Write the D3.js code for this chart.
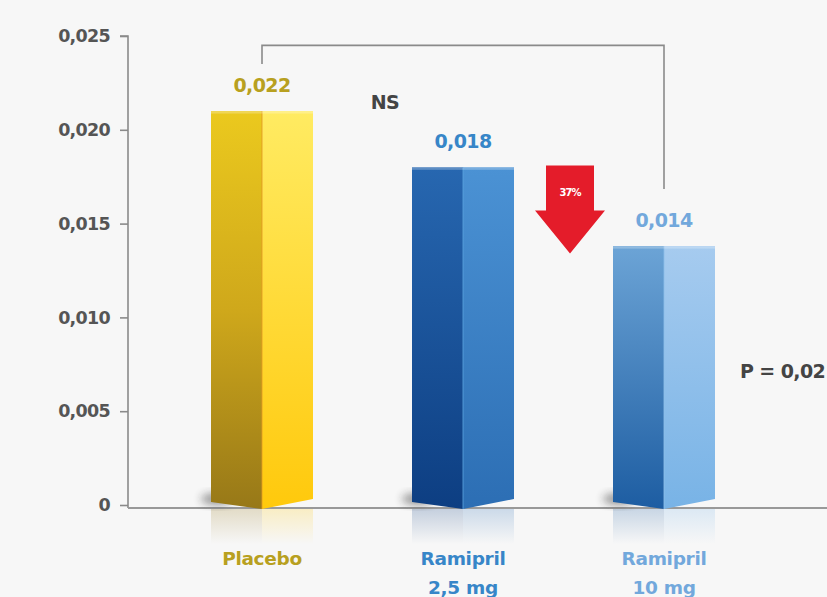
<!DOCTYPE html>
<html><head><meta charset="utf-8">
<script src="https://cdn.jsdelivr.net/npm/d3@7"></script>
<style>
html,body{margin:0;padding:0;background:#f7f7f7;overflow:hidden}
text{font-family:"DejaVu Sans",sans-serif;font-weight:700}
</style></head>
<body><svg id="c" width="827" height="597"></svg>
<script>
// ---- data ----
const categories = ["Placebo", "Ramipril|2,5 mg", "Ramipril|10 mg"];
const values = [0.021, 0.018, 0.0138];
const valueLabels = ["0,022", "0,018", "0,014"];
const yTicks = [0, 0.005, 0.010, 0.015, 0.020, 0.025];
const yTickLabels = ["0", "0,005", "0,010", "0,015", "0,020", "0,025"];
const reductionLabel = "37%";
const nsLabel = "NS";
const pLabel = "P = 0,02";

// ---- styles ----
const faceColors = [
  {l:["#ebc91e","#cfa81b","#977818"], r:["#ffeb62","#ffc90c"], text:"#b8a020", edge:"#e39a22"},
  {l:["#2767b0","#0d3e82"], r:["#4b92d4","#2c6eb4"], text:"#3786c8", edge:"#5aa3e0"},
  {l:["#6ca4d6","#1d5da2"], r:["#a6cbef","#78b3e6"], text:"#72a8dc", edge:"#8dbfea"}
];

const svg = d3.select("#c");
const W = 827, H = 597;
const axisX = 128;
const y = d3.scaleLinear().domain([0, 0.025]).range([505, 36]);
const x = d3.scalePoint().domain(categories).range([262, 664]);
const halfW = 51;

const defs = svg.append("defs");
faceColors.forEach((c, i) => {
  ["l","r"].forEach(side => {
    const g = defs.append("linearGradient").attr("id", `g${i}${side}`)
      .attr("x1",0).attr("y1",0).attr("x2",0).attr("y2",1);
    const stops = c[side];
    stops.forEach((s, k) => g.append("stop").attr("offset", k/(stops.length-1)).attr("stop-color", s));
    const rg = defs.append("linearGradient").attr("id", `rf${i}${side}`)
      .attr("x1",0).attr("y1",0).attr("x2",0).attr("y2",1);
    rg.append("stop").attr("offset",0).attr("stop-color", stops[stops.length-1]).attr("stop-opacity",0.22);
    rg.append("stop").attr("offset",1).attr("stop-color", stops[stops.length-1]).attr("stop-opacity",0);
  });
});
const f = defs.append("filter").attr("id","blur").attr("x","-50%").attr("y","-50%").attr("width","200%").attr("height","200%");
f.append("feGaussianBlur").attr("stdDeviation", 4);

// ---- axes ----
const yAxis = d3.axisLeft(y).tickValues(yTicks).tickSize(8).tickPadding(10)
  .tickFormat((d,i) => yTickLabels[i]);
const ga = svg.append("g").attr("transform", `translate(${axisX},0)`).call(yAxis);
ga.select(".domain").attr("stroke","#8a8a8a").attr("stroke-width",1.6)
  .attr("d", `M-8,${y(0.025)}H0V${y(0)+3}`);
ga.selectAll(".tick line").attr("stroke","#8a8a8a").attr("stroke-width",1.6);
ga.selectAll(".tick text").attr("fill","#555").attr("font-size",17.5)
  .attr("letter-spacing","-0.7").attr("font-family","'DejaVu Sans',sans-serif").attr("font-weight",700);

// ---- reflections ----
const base = y(0) + 3;
categories.forEach((c, i) => {
  const cx = x(c);
  svg.append("rect").attr("x", cx - halfW).attr("y", base).attr("width", halfW).attr("height", 36)
    .attr("fill", `url(#rf${i}l)`);
  svg.append("rect").attr("x", cx).attr("y", base).attr("width", halfW).attr("height", 36)
    .attr("fill", `url(#rf${i}r)`);
});

// x axis line
svg.append("line").attr("x1", axisX).attr("x2", W).attr("y1", base).attr("y2", base)
  .attr("stroke","#999").attr("stroke-width",2);

// ---- bars ----
categories.forEach((c, i) => {
  const cx = x(c), top = y(values[i]);
  const g = svg.append("g");
  // shadow
  g.append("ellipse").attr("cx", cx - halfW + 6).attr("cy", base - 9).attr("rx", 16).attr("ry", 6)
    .attr("fill","#222").attr("opacity",0.45).attr("filter","url(#blur)");
  // left face
  g.append("path").attr("fill", `url(#g${i}l)`)
    .attr("d", `M${cx-halfW},${top}H${cx}V${base+1}L${cx-halfW},${base-6}Z`);
  // right face
  g.append("path").attr("fill", `url(#g${i}r)`)
    .attr("d", `M${cx},${top}H${cx+halfW}V${base-9}L${cx},${base+1}Z`);
  // edge
  g.append("line").attr("x1", cx).attr("x2", cx).attr("y1", top).attr("y2", base+1)
    .attr("stroke", faceColors[i].edge).attr("stroke-width",1.2).attr("opacity",0.7);
  // top highlight
  g.append("rect").attr("x", cx - halfW).attr("y", top).attr("width", halfW*2).attr("height", 2.5)
    .attr("fill","#fff").attr("opacity",0.25);
  // value label
  svg.append("text").attr("x", cx).attr("y", top - 19).attr("text-anchor","middle")
    .attr("fill", faceColors[i].text).attr("font-size",19).attr("letter-spacing","-0.6")
    .text(valueLabels[i]);
  // category label
  const lines = c.split("|");
  const t = svg.append("text").attr("x", cx).attr("y", 565).attr("text-anchor","middle")
    .attr("fill", faceColors[i].text).attr("font-size",18.5).attr("letter-spacing","-0.3");
  lines.forEach((ln, k) => t.append("tspan").attr("x", cx).attr("dy", k ? 29 : 0).text(ln));
});

// ---- bracket ----
const bx1 = x(categories[0]), bx2 = x(categories[2]);
const by = y(0.0245);
svg.append("path").attr("fill","none").attr("stroke","#8a8a8a").attr("stroke-width",1.6)
  .attr("d", `M${bx1},${y(values[0]) - 47}V${by}H${bx2}V${y(values[2]) - 57}`);

svg.append("text").attr("x", 385).attr("y", 109).attr("text-anchor","middle")
  .attr("fill","#444").attr("font-size",19).attr("letter-spacing","-0.5").text(nsLabel);

// ---- arrow ----
const ax = 570, aTop = y(0.0181), aMid = y(0.0157), aTip = y(0.0134);
svg.append("path").attr("fill","#e41c2a")
  .attr("d", `M${ax-24},${aTop}H${ax+24}V${aMid}H${ax+35}L${ax},${aTip}L${ax-35},${aMid}H${ax-24}Z`);
svg.append("text").attr("x", ax).attr("y", aTop + 31).attr("text-anchor","middle")
  .attr("fill","#fff").attr("font-size",10).attr("letter-spacing","-1").text(reductionLabel);

svg.append("text").attr("x", 740).attr("y", 378).attr("fill","#444")
  .attr("font-size",19).attr("letter-spacing","-0.6").text(pLabel);
</script></body></html>
